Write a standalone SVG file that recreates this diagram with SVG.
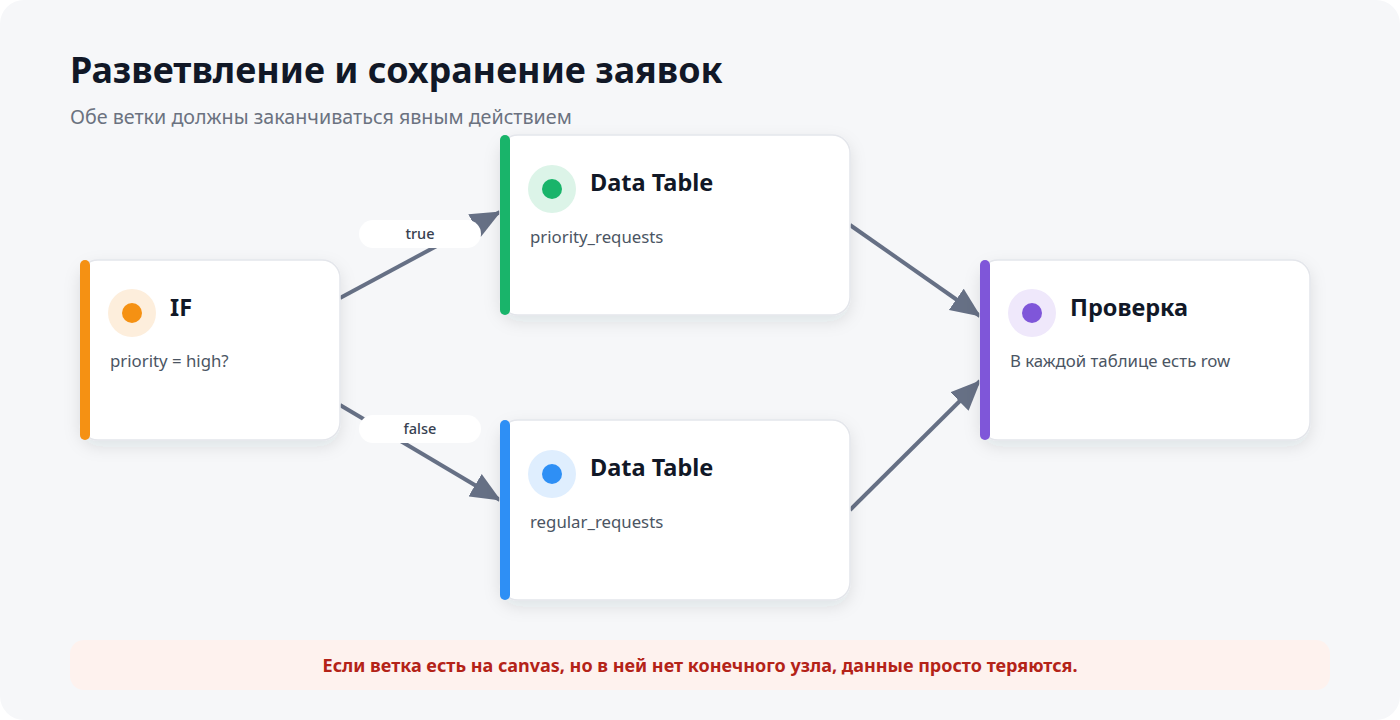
<svg xmlns="http://www.w3.org/2000/svg" width="1400" height="720" viewBox="0 0 1400 720">
<defs>
<style>
.card{fill:#ffffff;stroke:#e4e6eb;stroke-width:1.5;filter:url(#sh)}
.ttl{font-family:"Noto Sans","Open Sans","DejaVu Sans",sans-serif;font-weight:700;font-size:23.5px;fill:#111827}
.sub{font-family:"Noto Sans","Open Sans","DejaVu Sans",sans-serif;font-size:16.8px;fill:#4b5563}
.edge{stroke:#667085;stroke-width:4;fill:none;marker-end:url(#arr)}
.pill{fill:#ffffff}
.plbl{font-family:"Noto Sans","Open Sans","DejaVu Sans",sans-serif;font-size:14.5px;font-weight:500;fill:#374151;text-anchor:middle}
</style>
<filter id="sh" x="-20%" y="-20%" width="140%" height="150%">
<feDropShadow dx="0" dy="6" stdDeviation="8" flood-color="#1f2937" flood-opacity="0.10"/>
</filter>
<marker id="arr" markerUnits="userSpaceOnUse" viewBox="0 0 30 26" markerWidth="30" markerHeight="26" refX="29" refY="13" orient="auto">
<path d="M0,0 L30,13 L0,26 Z" fill="#667085"/>
</marker>
</defs>
<rect width="1400" height="720" fill="#ffffff"/>
<rect width="1400" height="720" rx="24" fill="#f6f7f9"/>
<text x="70" y="83" font-family="'Noto Sans','Open Sans',sans-serif" font-weight="700" font-size="35.9" fill="#111827">Разветвление и сохранение заявок</text>
<text x="70" y="124" font-family="'Noto Sans','Open Sans',sans-serif" font-size="19.7" fill="#6b7280">Обе ветки должны заканчиваться явным действием</text>
<g id="connectors">
<line class="edge" x1="340" y1="298" x2="500" y2="212"/>
<line class="edge" x1="340" y1="405" x2="500" y2="500"/>
<line class="edge" x1="850" y1="225" x2="980" y2="316"/>
<line class="edge" x1="850" y1="510" x2="980" y2="381"/>
<rect class="pill" x="359" y="220" width="122" height="28" rx="14"/>
<text class="plbl" x="420" y="239">true</text>
<rect class="pill" x="359" y="415" width="122" height="28" rx="14"/>
<text class="plbl" x="420" y="434">false</text>
</g>
<g id="node-if">
<rect class="card" x="80" y="260" width="260" height="180" rx="18"/>
<rect x="80" y="260" width="10" height="180" rx="5" fill="#f59113"/>
<circle cx="132" cy="313" r="24" fill="#fdeedc"/>
<circle cx="132" cy="313" r="10" fill="#f59113"/>
<text class="ttl" x="170" y="316">IF</text>
<text class="sub" x="110" y="367">priority = high?</text>
</g>
<g id="node-dt1">
<rect class="card" x="500" y="135" width="350" height="180" rx="18"/>
<rect x="500" y="135" width="10" height="180" rx="5" fill="#19b46a"/>
<circle cx="552" cy="189" r="24" fill="#dcf4e8"/>
<circle cx="552" cy="189" r="10" fill="#19b46a"/>
<text class="ttl" x="590" y="191">Data Table</text>
<text class="sub" x="530" y="243">priority_requests</text>
</g>
<g id="node-dt2">
<rect class="card" x="500" y="420" width="350" height="180" rx="18"/>
<rect x="500" y="420" width="10" height="180" rx="5" fill="#2e8ff5"/>
<circle cx="552" cy="474" r="24" fill="#dfeefe"/>
<circle cx="552" cy="474" r="10" fill="#2e8ff5"/>
<text class="ttl" x="590" y="476">Data Table</text>
<text class="sub" x="530" y="528">regular_requests</text>
</g>
<g id="node-check">
<rect class="card" x="980" y="260" width="330" height="180" rx="18"/>
<rect x="980" y="260" width="10" height="180" rx="5" fill="#7f56d9"/>
<circle cx="1032" cy="313" r="24" fill="#efe8fb"/>
<circle cx="1032" cy="313" r="10" fill="#7f56d9"/>
<text class="ttl" x="1070" y="316">Проверка</text>
<text class="sub" x="1010" y="367">В каждой таблице есть row</text>
</g>
<g id="note">
<rect x="70" y="640" width="1260" height="50" rx="14" fill="#fef2ee"/>
<text x="700" y="672" text-anchor="middle" font-family="'Noto Sans','Open Sans',sans-serif" font-weight="700" font-size="18" fill="#b42318">Если ветка есть на canvas, но в ней нет конечного узла, данные просто теряются.</text>
</g>
</svg>
